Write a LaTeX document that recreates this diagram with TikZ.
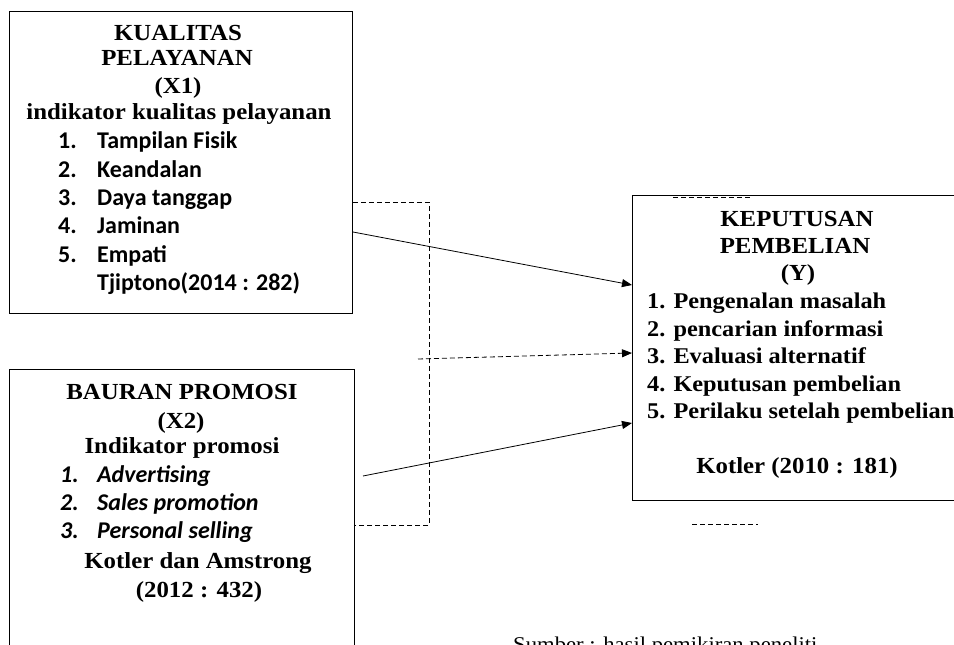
\documentclass[tikz,border=0pt]{standalone}
\usepackage{fontspec}
\setmainfont{Liberation Serif}[FakeStretch=1.08]
\newfontfamily\calibri{Carlito}
\usetikzlibrary{arrows.meta}

\begin{document}
\begin{tikzpicture}[x=1pt,y=-1pt]
\tikzset{box/.style={draw,line width=0.8pt,inner sep=0},
  ttl/.style={font=\bfseries\fontsize{23}{23}\selectfont,anchor=base,inner sep=0},
  itm/.style={font=\calibri\bfseries\fontsize{24}{24}\selectfont,anchor=base west,inner sep=0},
  itx/.style={itm,font=\calibri\bfseries\itshape\fontsize{24}{24}\selectfont},
  ytm/.style={font=\bfseries\fontsize{22.5}{22.5}\selectfont,anchor=base west,inner sep=0},
  arr/.style={line width=0.8pt,-{Triangle[length=10pt,width=8pt]}},
  dsh/.style={line width=0.8pt,dash pattern=on 5pt off 3pt}}
\useasboundingbox (0,0) rectangle (954,645);
% boxes
\node[box,anchor=north west,minimum width=343pt,minimum height=302pt] (x1) at (9,11) {};
\node[box,anchor=north west,minimum width=345pt,minimum height=300pt] (x2) at (9,369) {};
\draw[dsh] (673,197) -- (752,197);
\node[box,anchor=north west,minimum width=340pt,minimum height=305pt] (y) at (632,195) {};
% X1
\node[ttl] (t1a) at (178,40) {KUALITAS};
\node[ttl] (t1b) at (177,65) {PELAYANAN};
\node[ttl] (t1c) at (178,93) {(X1)};
\node[ttl] (t1d) at (179,119) {indikator kualitas pelayanan};
\foreach \i/\t/\yy in {1/Tampilan Fisik/148,2/Keandalan/177,3/Daya tanggap/205,4/Jaminan/233,5/Empati/262}{
  \node[itm] (n1\i) at (58,\yy) {\i.};
  \node[itm] (i1\i) at (97,\yy) {\t};
}
\node[itm] (s1) at (97,290) {Tjiptono(2014 : 282)};
% X2
\node[ttl] (t2a) at (182,399) {BAURAN PROMOSI};
\node[ttl] (t2b) at (181,428) {(X2)};
\node[ttl] (t2c) at (182,453) {Indikator promosi};
\foreach \i/\t/\yy in {1/Advertising/482,2/Sales promotion/510,3/Personal selling/538}{
  \node[itx] (n2\i) at (60,\yy) {\i.};
  \node[itx] (i2\i) at (97,\yy) {\t};
}
\node[ttl] (s2a) at (198,568) {Kotler dan Amstrong};
\node[ttl] (s2b) at (199,597) {(2012 : 432)};
% Y
\node[ttl] (t3a) at (797,226) {KEPUTUSAN};
\node[ttl] (t3b) at (795,253) {PEMBELIAN};
\node[ttl] (t3c) at (798,280) {(Y)};
\foreach \i/\t/\yy in {1/Pengenalan masalah/308,2/pencarian informasi/336,3/Evaluasi alternatif/363,4/Keputusan pembelian/391,5/Perilaku setelah pembelian/418}{
  \node[ytm] (i3\i) at (647,\yy) {\i. \t};
}
\node[ttl] (s3) at (797,473) {Kotler (2010 : 181)};
\draw[dsh] (692,524) -- (758,524);
% connectors
\coordinate (a1) at (353,232);
\coordinate (a2) at (363,476);
\coordinate (a3) at (418,359);
\draw[arr] (a1) -- (y.west |- 0,285);
\draw[arr] (a2) -- (y.west |- 0,423);
\draw[arr,dash pattern=on 5pt off 3pt] (a3) -- (y.west |- 0,353);
\draw[dsh] (x1.east |- 0,202) -| (429,525) -- (x2.east |- 0,525);
% source
\node[font=\fontsize{21}{21}\selectfont,anchor=base west,inner sep=0] (src) at (513,651) {Sumber : hasil pemikiran peneliti};
\end{tikzpicture}
\end{document}
